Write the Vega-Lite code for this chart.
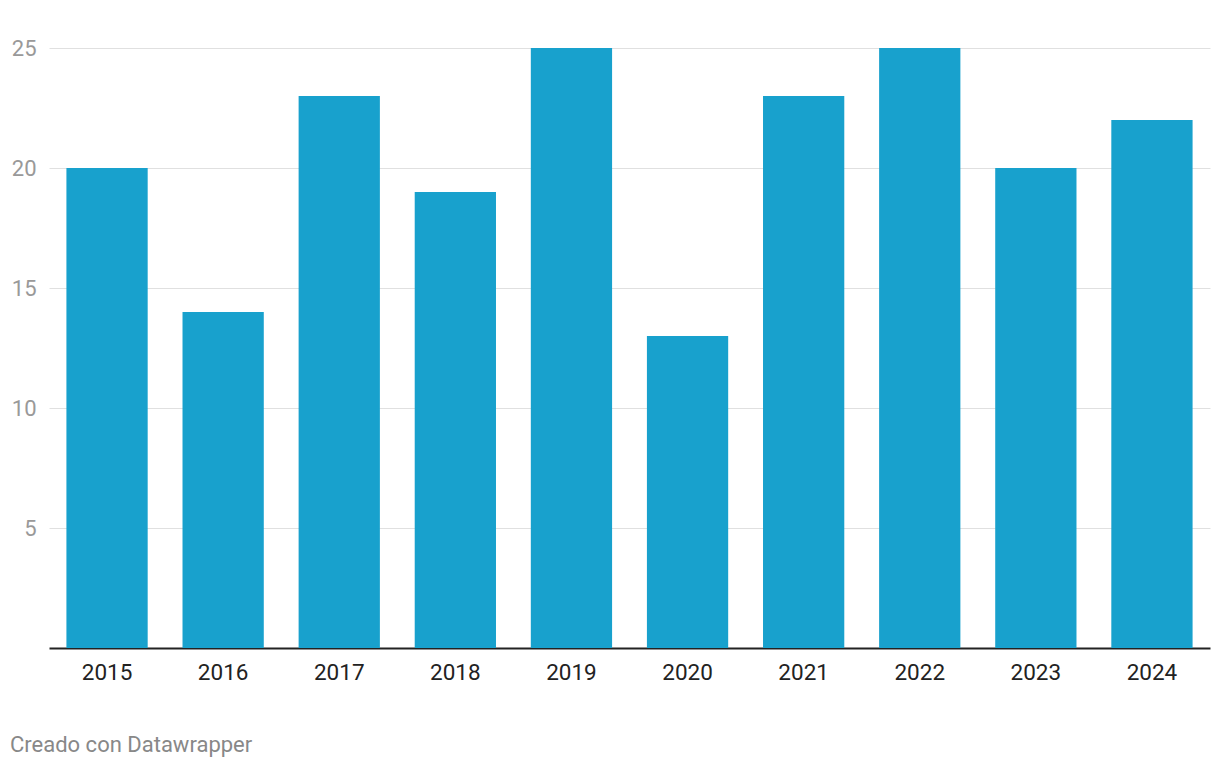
{
  "$schema": "https://vega.github.io/schema/vega-lite/v6.json",
  "autosize": "none",
  "width": 1161,
  "height": 600,
  "padding": {"left": 49, "top": 48, "right": 10, "bottom": 120},
  "background": "white",
  "config": {
    "font": "Roboto",
    "view": {"stroke": null}
  },
  "title": {
    "text": "Creado con Datawrapper",
    "orient": "bottom",
    "anchor": "start",
    "frame": "group",
    "dx": -39,
    "offset": 51,
    "fontSize": 22,
    "fontWeight": "normal",
    "color": "#888888",
    "font": "Roboto"
  },
  "data": {
    "values": [
      {"year": "2015", "value": 20},
      {"year": "2016", "value": 14},
      {"year": "2017", "value": 23},
      {"year": "2018", "value": 19},
      {"year": "2019", "value": 25},
      {"year": "2020", "value": 13},
      {"year": "2021", "value": 23},
      {"year": "2022", "value": 25},
      {"year": "2023", "value": 20},
      {"year": "2024", "value": 22}
    ]
  },
  "mark": {"type": "bar", "color": "#18a1cd"},
  "encoding": {
    "x": {
      "field": "year",
      "type": "ordinal",
      "scale": {"paddingInner": 0.3, "paddingOuter": 0.15},
      "axis": {
        "title": null,
        "labelAngle": 0,
        "ticks": false,
        "domainColor": "#222222",
        "domainWidth": 2,
        "labelFontSize": 22.5,
        "labelColor": "#222222",
        "labelPadding": 13,
        "grid": false
      }
    },
    "y": {
      "field": "value",
      "type": "quantitative",
      "scale": {"domain": [0, 25]},
      "axis": {
        "title": null,
        "values": [5, 10, 15, 20, 25],
        "domain": false,
        "ticks": false,
        "grid": true,
        "gridColor": "#e0e0e0",
        "gridWidth": 1,
        "labelFontSize": 22,
        "labelColor": "#999999",
        "labelPadding": 13
      }
    }
  }
}
